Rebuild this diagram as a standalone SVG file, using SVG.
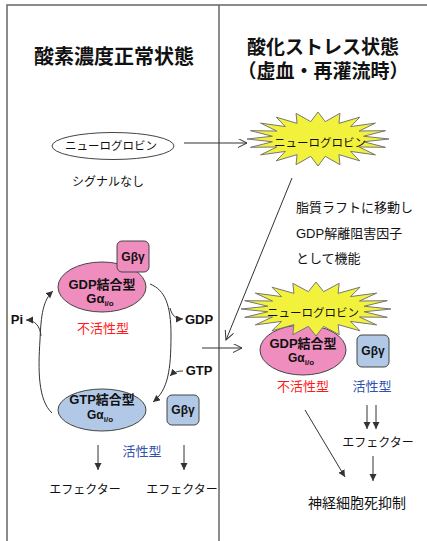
<svg xmlns="http://www.w3.org/2000/svg" width="427" height="541" viewBox="0 0 427 541">
<style>
text{font-family:"Liberation Sans","Noto Sans CJK JP",sans-serif;fill:#111;text-anchor:middle}
.title{font-size:19px;font-weight:bold}
.jp{font-size:12px}
.b{font-weight:bold;font-size:13px}
.red{fill:#FF1A1A;font-size:13px}
.blue{fill:#2F52B0;font-size:13px}
.frame{stroke:#666;stroke-width:1.5;fill:none}
.pink{fill:#EF8DBE;stroke:#444;stroke-width:1}
.bluef{fill:#B1C9E6;stroke:#444;stroke-width:1}
.star{fill:#F2F23C;stroke:#777;stroke-width:1}
#connectors path,#connectors line{stroke:#333;stroke-width:1;fill:none}
</style>
<defs>
<marker id="open" markerUnits="userSpaceOnUse" markerWidth="10" markerHeight="10" refX="9" refY="4.5" orient="auto"><path d="M0,0 L9,4.5 L0,9" fill="none" stroke="#333" stroke-width="1"/></marker>
<marker id="fill" markerUnits="userSpaceOnUse" markerWidth="9" markerHeight="8" refX="7" refY="3.5" orient="auto"><path d="M0,0 L7,3.5 L0,7 z" fill="#333"/></marker>
<polygon id="burst" points="100,0 64.2,10.2 95.1,30.9 57.9,29.5 80.9,58.8 46,46 58.8,80.9 29.5,57.9 30.9,95.1 10.2,64.2 0,100 -10.2,64.2 -30.9,95.1 -29.5,57.9 -58.8,80.9 -46,46 -80.9,58.8 -57.9,29.5 -95.1,30.9 -64.2,10.2 -100,0 -64.2,-10.2 -95.1,-30.9 -57.9,-29.5 -80.9,-58.8 -46,-46 -58.8,-80.9 -29.5,-57.9 -30.9,-95.1 -10.2,-64.2 0,-100 10.2,-64.2 30.9,-95.1 29.5,-57.9 58.8,-80.9 46,-46 80.9,-58.8 57.9,-29.5 95.1,-30.9 64.2,-10.2" vector-effect="non-scaling-stroke"/>
</defs>

<g id="frame">
<path class="frame" d="M7,541 L7,5 L427,5"/>
<line class="frame" x1="219" y1="5" x2="219" y2="541" stroke-width="1.2"/>
</g>

<g id="titles">
<text class="title" x="114" y="64" style="font-size:20px">酸素濃度正常状態</text>
<text class="title" x="323" y="54">酸化ストレス状態</text>
<text class="title" x="323" y="78">（虚血・再灌流時）</text>
</g>

<g id="connectors">
<line x1="184" y1="143" x2="247" y2="143" marker-end="url(#open)"/>
<line x1="292" y1="178" x2="226" y2="340" marker-end="url(#open)"/>
<line x1="202" y1="348" x2="242" y2="348" marker-end="url(#open)"/>
<path d="M52,413 C38,400 38,370 40,340 C41,315 43,300 53,291" marker-end="url(#fill)"/>
<path d="M41,336 C40,326 35,320 26,320" marker-end="url(#fill)"/>
<path d="M150,284 C165,290 171,305 171,335 C171,370 168,390 153,402" marker-end="url(#fill)"/>
<path d="M170,308 C172,316 176,319 183,319" marker-end="url(#fill)"/>
<path d="M183,371 C178,371 174,372 170,376" marker-end="url(#fill)"/>
<line x1="98" y1="445" x2="98" y2="470" marker-end="url(#fill)"/>
<line x1="184" y1="445" x2="184" y2="470" marker-end="url(#fill)"/>
<line x1="367" y1="405" x2="367" y2="429" marker-end="url(#fill)"/>
<line x1="376" y1="405" x2="376" y2="429" marker-end="url(#fill)"/>
<line x1="373" y1="456" x2="373" y2="481" marker-end="url(#fill)"/>
<line x1="305" y1="410" x2="345" y2="477" marker-end="url(#fill)"/>
</g>

<g id="ngb-normal">
<ellipse cx="113" cy="146" rx="61" ry="13.5" fill="#fff" stroke="#444" stroke-width="1"/>
<text x="111" y="150" style="font-size:11.5px">ニューログロビン</text>
</g>
<g id="no-signal"><text class="jp" x="108" y="186">シグナルなし</text></g>

<g id="ngb-stress">
<use href="#burst" class="star" transform="translate(318,139) scale(0.71,0.27)"/>
<text x="320" y="147" style="font-size:11.5px">ニューログロビン</text>
</g>

<g id="note">
<text x="296" y="212" style="font-size:13px;text-anchor:start">脂質ラフトに移動し</text>
<text x="296" y="238" style="font-size:13px;text-anchor:start">GDP解離阻害因子</text>
<text x="296" y="263" style="font-size:13px;text-anchor:start">として機能</text>
</g>

<g id="gdp-left">
<ellipse class="pink" cx="102" cy="287" rx="44" ry="25"/>
<text class="b" x="102" y="289">GDP結合型</text>
<text class="b" x="100" y="303">Gα<tspan font-size="8" dy="3">i/o</tspan></text>
</g>
<g id="gby-pink">
<rect class="pink" x="117" y="241" width="32" height="31" rx="5"/>
<text class="b" x="133" y="261" style="font-size:12px">Gβγ</text>
</g>
<g id="inactive-left"><text class="red" x="103" y="333">不活性型</text></g>
<g id="pi"><text class="b" x="17" y="324">Pi</text></g>
<g id="gdp"><text class="b" x="199" y="324">GDP</text></g>
<g id="gtp"><text class="b" x="199" y="375">GTP</text></g>

<g id="gtp-left">
<ellipse class="bluef" cx="102" cy="410" rx="44" ry="21"/>
<text class="b" x="102" y="404">GTP結合型</text>
<text class="b" x="100" y="419" style="font-size:12px">Gα<tspan font-size="8" dy="3">i/o</tspan></text>
</g>
<g id="gby-blue-left">
<rect class="bluef" x="167" y="395" width="32" height="30" rx="5"/>
<text class="b" x="183" y="414" style="font-size:12px">Gβγ</text>
</g>
<g id="active-left"><text class="blue" x="142" y="456">活性型</text></g>
<g id="effector-1"><text class="jp" x="85" y="494">エフェクター</text></g>
<g id="effector-2"><text class="jp" x="182" y="494">エフェクター</text></g>

<g id="gdp-right">
<ellipse class="pink" cx="303" cy="350" rx="43" ry="25"/>
<use href="#burst" class="star" transform="translate(316,309) scale(0.75,0.27)"/>
<text x="313" y="317" style="font-size:11.5px">ニューログロビン</text>
<text class="b" x="303" y="348">GDP結合型</text>
<text class="b" x="301" y="362" style="font-size:12px">Gα<tspan font-size="8" dy="3">i/o</tspan></text>
</g>
<g id="gby-blue-right">
<rect class="bluef" x="357" y="335" width="32" height="32" rx="5"/>
<text class="b" x="373" y="355" style="font-size:12px">Gβγ</text>
</g>
<g id="inactive-right"><text class="red" x="303" y="391">不活性型</text></g>
<g id="active-right"><text class="blue" x="372" y="391">活性型</text></g>
<g id="effector-3"><text class="jp" x="378" y="447">エフェクター</text></g>
<g id="result"><text x="357" y="508" style="font-size:14px">神経細胞死抑制</text></g>
</svg>
